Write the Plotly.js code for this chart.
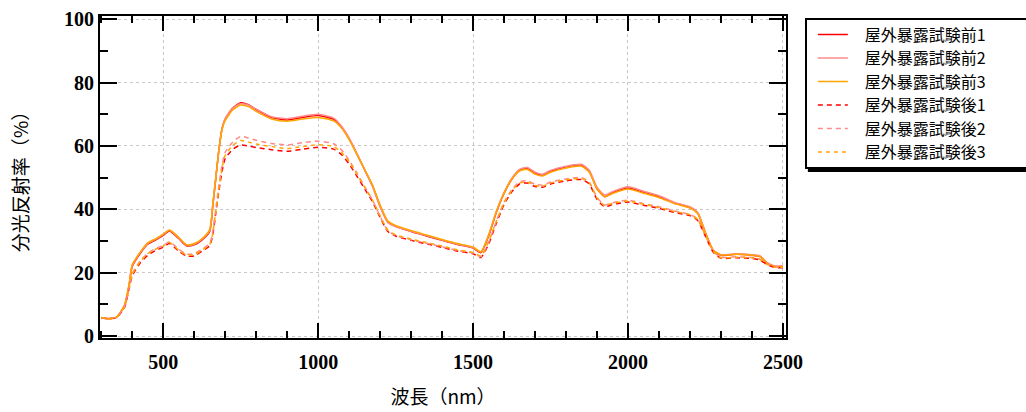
<!DOCTYPE html>
<html>
<head>
<meta charset="utf-8">
<script src="https://cdn.plot.ly/plotly-3.0.1.min.js"></script>
<style>html,body{margin:0;padding:0;background:#fff;}#chart{width:1026px;height:412px;}</style>
</head>
<body>
<div id="chart"></div>
<script>
var wavelength = [300,325,350,375,390,400,425,450,475,500,520,550,575,600,625,650,660,670,680,690,700,725,750,775,800,850,900,950,1000,1050,1075,1100,1125,1150,1175,1200,1225,1250,1300,1350,1400,1450,1500,1525,1550,1575,1600,1625,1650,1675,1700,1725,1750,1800,1850,1875,1900,1925,1950,2000,2050,2100,2150,2200,2225,2250,2275,2300,2350,2400,2425,2450,2475,2500];

var before1 = [5.8,5.5,6.0,9.5,16,22,26,29,30.3,31.8,33.2,30.8,28.5,28.8,30.3,33,41,50,59,65.5,68.5,72,73.6,73,71.5,69,68.2,69,69.6,68.4,66,62.3,57.5,52.5,47.5,41,36,34.6,33,31.6,30.2,28.9,27.8,26.3,31.5,39,45,49.5,52.3,52.9,51.4,50.8,52,53.4,54,52,46.5,44,45.2,46.7,45.4,44,42,40.6,38.8,32.5,27,25.5,25.8,25.5,25.2,23,22,22];
var before2 = [5.9,5.6,6.0,9.6,16.2,22.2,26.2,29.2,30.5,32,33.4,31,28.7,29,30.5,33.3,41.3,50.2,59,65.6,68.6,72,73.3,72.9,71.6,69.2,68.6,69.4,70,68.8,66.3,62.5,57.6,52.5,47.3,40.8,35.8,34.6,33.1,31.7,30.3,29,27.9,26.5,31.8,39.3,45.3,49.8,52.6,53.2,51.7,51.1,52.3,53.6,54.2,52.3,47,44.5,45.6,47.1,45.7,44.3,42.2,40.8,39,32.7,27.2,25.7,26,25.7,25.4,23.1,22.1,22.1];
var before3 = [5.8,5.5,6.1,9.8,16.5,22.5,26.4,29.4,30.7,32.2,33.5,31.2,28.8,29.2,30.7,33.6,41.5,50.3,58.8,65.2,68,71.4,72.9,72.4,70.9,68.5,67.8,68.5,69,67.9,65.7,62,57.4,52.6,47.8,41.4,36.3,34.9,33.3,31.9,30.5,29.2,28.1,26.6,31.9,39.2,45.1,49.5,52.1,52.6,51.1,50.5,51.7,53,53.6,51.7,46.5,44,45,46.4,45.1,43.7,41.8,40.4,38.7,32.6,27.2,25.6,25.8,25.5,25.1,22.9,21.9,21.9];

var after1 = [5.8,5.5,6.0,9,15,19,23,25.5,27,28,29.2,26.8,25.3,25.3,26.8,28.5,32,39,46,52,56,59,60.3,60,59.5,58.8,58.3,59,59.6,59,57.3,54.3,50.5,46.5,42.5,37.5,33,31.6,30.2,29.1,28,26.8,26,24.8,29,35.5,41.5,45.5,48,48.3,47.2,47,48,49,49.4,48,43.2,40.8,41.5,42.3,41.3,40.3,39,38,36.5,31.5,26.5,24.6,24.7,24.5,24,22.5,21.6,21.6];
var after2 = [5.9,5.6,6.1,9.3,15.4,19.6,23.6,26.1,27.6,28.6,29.8,27.4,25.9,26,27.4,29.2,33,40.3,47.6,54,58,61.3,63,62.5,61.8,60.8,60.3,61,61.5,60.7,58.8,55.5,51.5,47.2,43,37.8,33.2,31.8,30.4,29.3,28.2,27,26.2,25.1,29.5,36.2,42.2,46.2,48.7,49,47.9,47.6,48.6,49.6,50,48.6,43.8,41.4,42.1,42.9,41.8,40.8,39.5,38.4,36.9,31.9,26.8,24.9,25,24.8,24.3,22.7,21.8,21.8];
var after3 = [5.8,5.5,6.0,9.2,15.3,19.5,23.4,26,27.4,28.4,29.5,27.1,25.6,25.7,27.1,28.9,32.5,39.6,46.8,53,57,60.2,61.7,61.2,60.6,59.8,59.2,59.8,60.4,59.8,58,55,51.1,47,43,38,33.5,32,30.6,29.5,28.4,27.2,26.4,25.3,29.8,36.2,42,45.9,48.3,48.6,47.5,47.3,48.3,49.3,49.7,48.3,43.6,41.2,41.9,42.6,41.6,40.6,39.3,38.3,36.8,31.8,26.8,24.8,24.9,24.7,24.2,22.6,21.7,21.7];

var names = ['屋外暴露試験前1','屋外暴露試験前2','屋外暴露試験前3','屋外暴露試験後1','屋外暴露試験後2','屋外暴露試験後3'];
var colors = ['#ff0000','#ff8a8a','#ffa500','#ff0000','#ff8a8a','#ffa500'];
var series = [before1, before2, before3, after1, after2, after3];
var dashes = ['solid','solid','solid','5px,4px','5px,4px','4px,4px'];

var traces = series.map(function(s, i){
  return {
    x: wavelength, y: s, type: 'scatter', mode: 'lines', name: names[i],
    line: {color: colors[i], width: 1.5, dash: dashes[i], shape: 'spline', smoothing: 0.6}
  };
});

var tickFont = {family: 'Liberation Serif', size: 20, color: '#000', weight: 'bold'};
var titleFont = {family: 'Noto Sans CJK JP', size: 19, color: '#000'};

var LEG_X = 1.0275, LEG_Y = 0.994, LEG_ROW = 23.5, LEG_FIRST = 16.5;
var LEG_H = Math.round(LEG_FIRST * 2 + LEG_ROW * 5);

var layout = {
  width: 1026, height: 412,
  margin: {l: 100, r: 240, t: 16, b: 74},
  paper_bgcolor: '#fff', plot_bgcolor: '#fff',
  showlegend: true,
  legend: {
    x: LEG_X, xanchor: 'left', y: LEG_Y, yanchor: 'top',
    bgcolor: '#fff', bordercolor: '#000', borderwidth: 2,
    font: {family: 'Noto Sans CJK JP', size: 16, color: '#000'}
  },
  shapes: [{
    type: 'rect', xref: 'paper', yref: 'paper', layer: 'above',
    xsizemode: 'pixel', ysizemode: 'pixel',
    xanchor: LEG_X, yanchor: LEG_Y,
    x0: 3, x1: 400, y0: -3, y1: -LEG_H - 3,
    fillcolor: '#000', line: {width: 0}
  }],
  xaxis: {
    range: [296, 2510], tickvals: [500, 1000, 1500, 2000, 2500],
    ticks: 'inside', ticklen: 15, tickwidth: 2, tickcolor: '#000',
    minor: {dtick: 100, tick0: 0, ticks: 'inside', ticklen: 7, tickwidth: 2, tickcolor: '#000', showgrid: false},
    showline: true, linewidth: 2, linecolor: '#000', mirror: 'ticks',
    showgrid: true, gridcolor: '#c8c8c8', gridwidth: 1, griddash: '3px,3px',
    zeroline: false, tickfont: tickFont, ticklabelstandoff: 5,
    title: {text: '波長（nm）', font: titleFont, standoff: 19}
  },
  yaxis: {
    range: [-0.6, 101], tickvals: [0, 20, 40, 60, 80, 100],
    ticks: 'inside', ticklen: 17, tickwidth: 2, tickcolor: '#000',
    minor: {dtick: 10, tick0: 0, ticks: 'inside', ticklen: 8, tickwidth: 2, tickcolor: '#000', showgrid: false},
    showline: true, linewidth: 2, linecolor: '#000', mirror: 'ticks',
    showgrid: true, gridcolor: '#c8c8c8', gridwidth: 1, griddash: '3px,3px',
    zeroline: false, tickfont: tickFont,
    title: {text: '分光反射率（%）', font: titleFont, standoff: 30}
  }
};

Plotly.newPlot('chart', traces, layout, {staticPlot: true}).then(function(gd){
  var groups = gd.querySelectorAll('.legend .traces');
  groups.forEach(function(g, i){
    g.setAttribute('transform', 'translate(8,' + (LEG_FIRST + LEG_ROW * i) + ')');
    var t = g.querySelector('text.legendtext');
    if (t) t.setAttribute('transform', 'translate(12,0)');
  });
  var bg = gd.querySelector('.legend rect.bg');
  if (bg) {
    bg.setAttribute('height', LEG_H - 2);
    bg.setAttribute('width', 300);
  }
  var clip = gd.querySelectorAll('defs clipPath[id*="legend"] rect');
  clip.forEach(function(r){ r.setAttribute('height', LEG_H + 10); r.setAttribute('width', 400); });
});
</script>
</body>
</html>
